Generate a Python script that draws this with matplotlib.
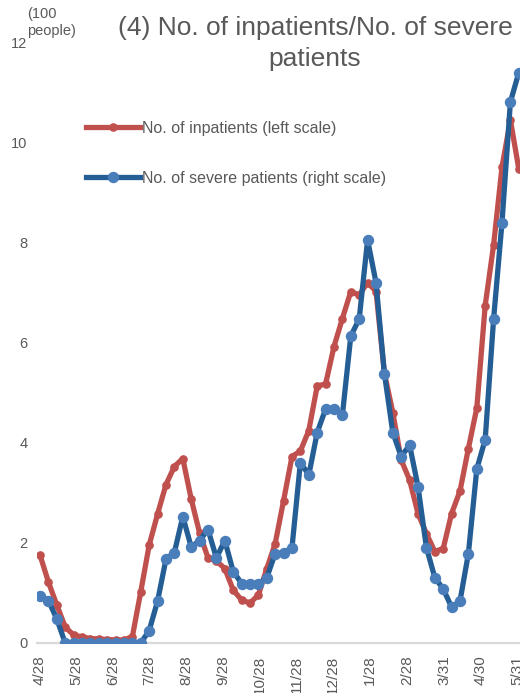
import matplotlib
matplotlib.use("Agg")
import matplotlib.pyplot as plt
import matplotlib.dates as mdates
from matplotlib.lines import Line2D
import datetime as dt
import numpy as np

# ---- data (weekly; units of 100 people on the left scale) ----
start_date = "2020-04-28"
n_weeks = 58
inpatients = [1.76, 1.22, 0.76, 0.32, 0.16, 0.12, 0.09, 0.08, 0.07, 0.06,
              0.06, 0.13, 1.03, 1.96, 2.58, 3.17, 3.53, 3.69, 2.88, 2.20,
              1.70, 1.64, 1.49, 1.06, 0.86, 0.80, 0.96, 1.49, 1.99, 2.85,
              3.73, 3.84, 4.25, 5.14, 5.18, 5.93, 6.49, 7.03, 6.96, 7.21,
              7.03, 5.40, 4.61, 3.66, 3.26, 2.59, 2.19, 1.83, 1.89, 2.59,
              3.04, 3.89, 4.70, 6.75, 7.96, 9.52, 10.46, 9.48]
# severe patients, expressed on the (hidden) right scale, aligned to the left grid
severe = [0.95, 0.85, 0.48, 0.0, 0.0, 0.0, 0.0, 0.0, 0.0, 0.0,
          0.0, 0.0, 0.0, 0.25, 0.84, 1.68, 1.81, 2.53, 1.92, 2.05,
          2.27, 1.70, 2.05, 1.43, 1.19, 1.18, 1.18, 1.31, 1.79, 1.80,
          1.91, 3.61, 3.36, 4.21, 4.68, 4.68, 4.56, 6.14, 6.48, 8.06,
          7.21, 5.39, 4.21, 3.73, 3.96, 3.13, 1.91, 1.31, 1.08, 0.72,
          0.84, 1.79, 3.48, 4.07, 6.48, 8.41, 10.82, 11.41]
tick_dates = ["2020-04-28", "2020-05-28", "2020-06-28", "2020-07-28", "2020-08-28",
              "2020-09-28", "2020-10-28", "2020-11-28", "2020-12-28", "2021-01-28",
              "2021-02-28", "2021-03-31", "2021-04-30", "2021-05-31"]
tick_labels = ["4/28", "5/28", "6/28", "7/28", "8/28", "9/28", "10/28", "11/28",
               "12/28", "1/28", "2/28", "3/31", "4/30", "5/31"]
y_ticks = [0, 2, 4, 6, 8, 10, 12]

title = "(4) No. of inpatients/No. of severe\npatients"
unit_label = "(100\npeople)"
label_inp = "No. of inpatients (left scale)"
label_sev = "No. of severe patients (right scale)"

# ---- styles ----
RED = "#C0504D"
BLUE_LINE = "#245E94"
BLUE_MK = "#4A7EBB"
GRAY = "#595959"
FONT = "Liberation Sans"

W, H = 520, 693
fig = plt.figure(figsize=(W / 100, H / 100), dpi=100)

d0 = dt.datetime.strptime(start_date, "%Y-%m-%d")
dates = [d0 + dt.timedelta(days=7 * i) for i in range(n_weeks)]
x = mdates.date2num(dates)
x0 = mdates.date2num(d0)

px_per_day = 1.2
ax_left_px, ax_right_px = 37, 570
ax = fig.add_axes([ax_left_px / W, 50 / H, (ax_right_px - ax_left_px) / W, 600 / H])
xlim = (x0 - (40 - ax_left_px) / px_per_day,
        x0 - (40 - ax_left_px) / px_per_day + (ax_right_px - ax_left_px) / px_per_day)

ax.plot(x, inpatients, color=RED, lw=3.8, marker="o", ms=5.2,
        mfc=RED, mec=RED, solid_joinstyle="round", solid_capstyle="round", zorder=3)
ax.set_xlim(xlim)
ax.set_ylim(0, 12)

ax2 = ax.twinx()
ax2.plot(x, severe, color=BLUE_LINE, lw=3.8, marker="o", ms=7.2,
         mfc=BLUE_MK, mec=BLUE_MK, solid_joinstyle="round", solid_capstyle="round", zorder=3)
ax2.set_xlim(xlim)
ax2.set_ylim(0, 12)
ax2.axis("off")

for s in ["top", "right", "left"]:
    ax.spines[s].set_visible(False)
ax.spines["bottom"].set_color("#D9D9D9")
ax.spines["bottom"].set_linewidth(1.6)
ax.set_zorder(1)
ax2.set_zorder(2)

ax.set_yticks(y_ticks)
ax.set_yticklabels([str(v) for v in y_ticks], fontsize=10.5, color=GRAY, family=FONT)
ax.tick_params(axis="y", length=0, pad=7)
ax.set_xticks(mdates.date2num([dt.datetime.strptime(d, "%Y-%m-%d") for d in tick_dates]))
ax.set_xticklabels(tick_labels, rotation=90, fontsize=11, color=GRAY, family=FONT,
                   ha="center", va="top")
ax.tick_params(axis="x", length=0, pad=9)

fig.text(315 / W, 1 - 16 / H, title, ha="center", va="top", fontsize=19,
         color=GRAY, family=FONT, linespacing=1.35)
fig.text(27 / W, 1 - 7 / H, unit_label, ha="left", va="top", fontsize=10.5,
         color=GRAY, family=FONT, linespacing=1.25)

handles = [Line2D([], [], color=RED, lw=3.8, marker="o", ms=5.2, mfc=RED, mec=RED),
           Line2D([], [], color=BLUE_LINE, lw=3.8, marker="o", ms=7.2, mfc=BLUE_MK, mec=BLUE_MK)]
leg = fig.legend(handles, [label_inp, label_sev], loc="upper left",
                 bbox_to_anchor=(86 / W, 1 - 121 / H), frameon=False,
                 prop={"family": FONT, "size": 11.5}, handlelength=3.4,
                 handletextpad=0.1, labelspacing=2.17, borderpad=0, borderaxespad=0)
for t in leg.get_texts():
    t.set_color(GRAY)

fig.savefig("out.png", dpi=100)
